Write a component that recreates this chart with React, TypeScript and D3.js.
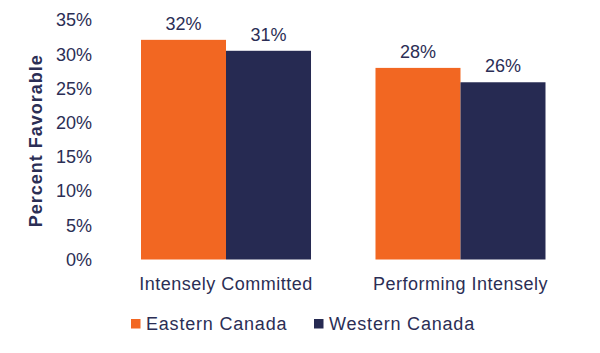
import React from 'react';
import * as d3 from 'd3';

const categories = ['Intensely Committed', 'Performing Intensely'];
const seriesNames = ['Eastern Canada', 'Western Canada'];
const easternValues = [32.1, 28.0];
const westernValues = [30.5, 25.9];
const easternLabels = ['32%', '28%'];
const westernLabels = ['31%', '26%'];
const yTicks = [0, 5, 10, 15, 20, 25, 30, 35];
const colors = ['#F26722', '#262A52'];
const textColor = '#2B2E55';

const W = 600;
const H = 353;
const font = "'Liberation Sans', Arial, sans-serif";

export default function App() {
  const x = d3.scaleBand<string>()
    .domain(categories)
    .range([109, 577.5])
    .paddingInner(0.275)
    .paddingOuter(0.1365);

  const sub = d3.scaleBand<string>()
    .domain(seriesNames)
    .range([0, x.bandwidth()]);

  const y = d3.scaleLinear().domain([0, 35]).range([259.5, 20]);

  const series = [
    { name: seriesNames[0], values: easternValues, labels: easternLabels, color: colors[0] },
    { name: seriesNames[1], values: westernValues, labels: westernLabels, color: colors[1] },
  ];

  return (
    <svg width={W} height={H} style={{ position: 'absolute', left: 0, top: 0 }} fontFamily={font}>
      <rect width={W} height={H} fill="#fff" />

      {/* y ticks */}
      {yTicks.map(t => (
        <text key={t} x={92} y={y(t)} dy="0.35em" textAnchor="end" fontSize={18} fill={textColor}>
          {t}%
        </text>
      ))}

      {/* axis title */}
      <text
        transform={`translate(42,${(y(0) + y(35)) / 2 + 1}) rotate(-90)`}
        textAnchor="middle"
        fontSize={18}
        fontWeight="bold"
        fill={textColor}
        letterSpacing={1}
      >
        Percent  Favorable
      </text>

      {/* bars */}
      {series.map(s =>
        categories.map((c, i) => {
          const bx = (x(c) ?? 0) + (sub(s.name) ?? 0);
          const by = y(s.values[i]);
          return (
            <g key={s.name + c}>
              <rect x={bx} y={by} width={sub.bandwidth()} height={y(0) - by} fill={s.color} />
              <text
                x={bx + sub.bandwidth() / 2}
                y={by - 10}
                textAnchor="middle"
                fontSize={18}
                fill={textColor}
              >
                {s.labels[i]}
              </text>
            </g>
          );
        })
      )}

      {/* category labels */}
      {categories.map(c => (
        <text
          key={c}
          x={(x(c) ?? 0) + x.bandwidth() / 2}
          y={290}
          textAnchor="middle"
          fontSize={18}
          fill={textColor}
          letterSpacing={0.5}
        >
          {c}
        </text>
      ))}

      {/* legend */}
      {series.map((s, i) => {
        const lx = i === 0 ? 131 : 314;
        return (
          <g key={s.name}>
            <rect x={lx} y={319} width={9.5} height={9.5} fill={s.color} />
            <text x={lx + 15} y={323.5} dy="0.35em" fontSize={18} fill={textColor} letterSpacing={0.8}>
              {s.name}
            </text>
          </g>
        );
      })}
    </svg>
  );
}
